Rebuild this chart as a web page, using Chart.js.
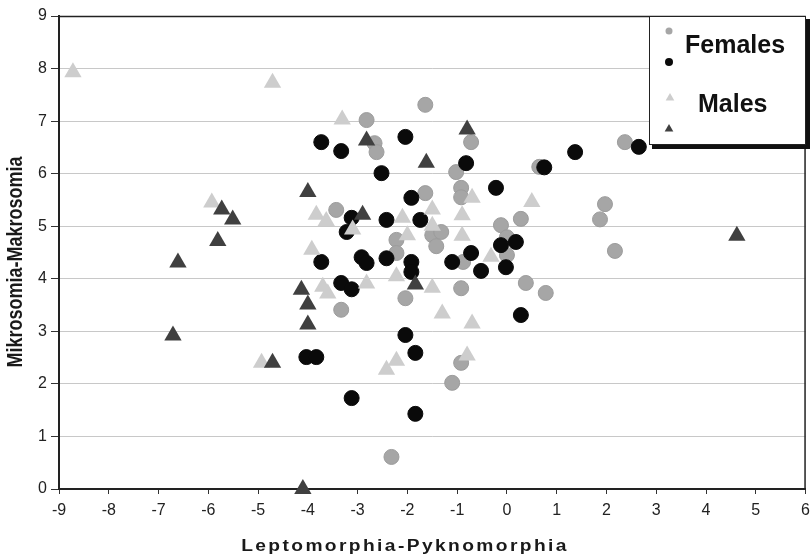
<!DOCTYPE html>
<html>
<head>
<meta charset="utf-8">
<title>Leptomorphia-Pyknomorphia scatter</title>
<script src="https://cdn.jsdelivr.net/npm/chart.js@4.4.1/dist/chart.umd.min.js"></script>
<style>
  html, body { margin: 0; padding: 0; background: #fff; overflow: hidden; }
  #wrap { width: 811px; height: 560px; overflow: hidden; }
</style>
</head>
<body>
<!-- canvas a bit wider than the page: Chart.js keeps ~10px for the big markers on the right -->
<div id="wrap"><canvas id="myChart" width="817" height="560"></canvas></div>
<script>
// Data (x = Leptomorphia-Pyknomorphia, y = Mikrosomia-Makrosomia)
const femalesGreyX = [-1.64, -2.82, -2.66, -2.62, -0.72, -1.02, 0.65, -1.64, -0.92, -0.92, -3.43, -2.22, -2.22, -1.5, -1.32, -1.42, -0.12,
  0.28, 0.0, -0.88, 0.0, 0.38, 0.78, -0.92, -2.04, -3.33, -0.92, -1.1, -2.32, 2.37, 1.97, 1.87, 2.17];
const femalesGreyY = [7.31, 7.02, 6.58, 6.41, 6.6, 6.03, 6.13, 5.63, 5.73, 5.55, 5.31, 4.74, 4.49, 4.83, 4.89, 4.62, 5.02,
  5.14, 4.79, 4.32, 4.45, 3.92, 3.73, 3.82, 3.63, 3.41, 2.4, 2.02, 0.61, 6.6, 5.42, 5.13, 4.53];

const femalesBlackX = [-3.73, -3.33, -2.04, -2.52, -0.82, 0.75, -0.22, -1.92, -3.12, -3.22, -2.42, -1.74, -3.73, -2.92, -2.82, -2.42, -1.92,
  -1.92, -1.1, -0.72, -0.52, -0.12, 0.18, -0.02, -3.33, -3.12, 0.28, -2.04, -4.03, -3.83, -1.84, -3.12, -1.84, 1.37, 2.65];
const femalesBlackY = [6.6, 6.43, 6.7, 6.01, 6.2, 6.12, 5.73, 5.54, 5.16, 4.89, 5.12, 5.12, 4.32, 4.41, 4.3, 4.39, 4.32,
  4.13, 4.32, 4.49, 4.15, 4.64, 4.7, 4.22, 3.92, 3.8, 3.31, 2.93, 2.51, 2.51, 2.59, 1.73, 1.43, 6.41, 6.51];

const malesLightX = [-8.72, -4.71, -5.93, -4.93, -3.31, -3.83, -3.63, -3.1, -2.1, -2.0, -1.5, -1.5, -0.9, -0.9, -0.7, 0.5,
  -3.92, -3.7, -3.6, -2.82, -2.22, -1.5, -1.3, -0.7, -0.32, -2.42, -2.22, -0.8];
const malesLightY = [7.93, 7.73, 5.45, 2.4, 7.03, 5.22, 5.1, 4.94, 5.16, 4.83, 5.32, 5.01, 5.21, 4.82, 5.54, 5.46,
  4.55, 3.85, 3.72, 3.91, 4.05, 3.83, 3.34, 3.15, 4.42, 2.27, 2.44, 2.54];

const malesDarkX = [-4.1, -6.71, -6.61, -5.81, -5.73, -5.51, -4.71, -4.0, -4.13, -4.0, -4.0, -2.9, -2.82, -0.8, -1.62, -1.84, 4.62];
const malesDarkY = [0.0, 2.92, 4.31, 4.72, 5.32, 5.13, 2.4, 5.65, 3.79, 3.51, 3.13, 5.22, 6.63, 6.84, 6.21, 3.89, 4.82];

// axis ranges / titles
const xMin = -9, xMax = 6;
const yMin = 0, yMax = 9;
const xTitle = 'Leptomorphia-Pyknomorphia';
const yTitle = 'Mikrosomia-Makrosomia';

const FONT = 'Arial, "Liberation Sans", sans-serif';

const toPoints = (xs, ys) => xs.map((x, i) => ({ x: x, y: ys[i] }));

// frame, legend box and axis titles
const decorations = {
  id: 'decorations',
  beforeDatasetsDraw(chart) {
    const { ctx, chartArea: a } = chart;
    ctx.save();
    ctx.strokeStyle = '#222';
    ctx.lineWidth = 1.5;
    ctx.beginPath();
    ctx.moveTo(a.left, a.top + 0.5);
    ctx.lineTo(a.right - 0.5, a.top + 0.5);
    ctx.lineTo(a.right - 0.5, a.bottom);
    ctx.stroke();
    ctx.restore();
  },
  afterDatasetsDraw(chart) {
    const ctx = chart.ctx;
    ctx.save();

    // legend box with its heavy shadow
    ctx.fillStyle = '#fff';
    ctx.fillRect(649, 16, 157, 129);
    ctx.strokeStyle = '#222';
    ctx.lineWidth = 1;
    ctx.strokeRect(649.5, 16.5, 156, 128);
    ctx.fillStyle = '#111';
    ctx.fillRect(806, 19, 4, 130);
    ctx.fillRect(652, 145, 158, 4);

    // legend markers
    ctx.fillStyle = '#a6a6a6';
    ctx.beginPath(); ctx.arc(669, 31, 3.5, 0, Math.PI * 2); ctx.fill();
    ctx.fillStyle = '#0a0a0a';
    ctx.beginPath(); ctx.arc(669, 62, 4, 0, Math.PI * 2); ctx.fill();
    const tri = (cx, cy, r, col) => {
      ctx.fillStyle = col;
      ctx.beginPath();
      ctx.moveTo(cx, cy - r);
      ctx.lineTo(cx + r * 0.866, cy + r / 2);
      ctx.lineTo(cx - r * 0.866, cy + r / 2);
      ctx.closePath();
      ctx.fill();
    };
    tri(670, 98, 5, '#cdcdcd');
    tri(669, 129, 5, '#404040');

    ctx.fillStyle = '#111';
    ctx.font = 'bold 25px ' + FONT;
    ctx.textAlign = 'left';
    ctx.textBaseline = 'alphabetic';
    ctx.fillText('Females', 685, 53);
    ctx.fillText('Males', 698, 112);

    // axis titles (slightly stretched, like the source figure)
    ctx.fillStyle = '#1a1a1a';
    ctx.textAlign = 'center';
    ctx.font = 'bold 16px ' + FONT;
    ctx.save();
    ctx.translate(405, 551);
    ctx.scale(1.2, 1);
    if ('letterSpacing' in ctx) ctx.letterSpacing = '2px';
    ctx.fillText(xTitle, 0, 0);
    ctx.restore();

    ctx.save();
    ctx.translate(16, 262);
    ctx.rotate(-Math.PI / 2);
    ctx.scale(1, 1.2);
    ctx.font = 'bold 18px ' + FONT;
    ctx.textBaseline = 'middle';
    ctx.fillText(yTitle, 0, 0);
    ctx.restore();

    ctx.restore();
  }
};

const myChart = new Chart(document.getElementById('myChart'), {
  type: 'scatter',
  data: {
    datasets: [
      {
        label: 'Females',
        data: toPoints(femalesGreyX, femalesGreyY),
        pointStyle: 'circle',
        pointRadius: 7.5,
        backgroundColor: '#a6a6a6',
        borderColor: '#9c9c9c',
        borderWidth: 1,
        order: 4,
        clip: false
      },
      {
        label: 'Females ',
        data: toPoints(femalesBlackX, femalesBlackY),
        pointStyle: 'circle',
        pointRadius: 7.5,
        backgroundColor: '#0a0a0a',
        borderColor: '#0a0a0a',
        borderWidth: 1,
        order: 3,
        clip: false
      },
      {
        label: 'Males',
        data: toPoints(malesLightX, malesLightY),
        pointStyle: 'triangle',
        pointRadius: 10,
        backgroundColor: '#cdcdcd',
        borderColor: '#cdcdcd',
        borderWidth: 0,
        order: 2,
        clip: false
      },
      {
        label: 'Males ',
        data: toPoints(malesDarkX, malesDarkY),
        pointStyle: 'triangle',
        pointRadius: 10,
        backgroundColor: '#404040',
        borderColor: '#404040',
        borderWidth: 0,
        order: 1,
        clip: false
      }
    ]
  },
  options: {
    responsive: false,
    animation: false,
    events: [],
    layout: { padding: { left: 0, right: 4, top: 16, bottom: 0 } },
    plugins: {
      legend: { display: false },
      tooltip: { enabled: false }
    },
    scales: {
      x: {
        type: 'linear',
        min: xMin,
        max: xMax,
        afterFit: (scale) => { scale.height = 71; },
        ticks: { stepSize: 1, color: '#222', font: { family: FONT, size: 16 }, padding: 7 },
        grid: { drawOnChartArea: false, tickColor: '#333', tickLength: 5 },
        border: { color: '#222', width: 2 }
      },
      y: {
        type: 'linear',
        min: yMin,
        max: yMax,
        afterFit: (scale) => { scale.width = 59; },
        ticks: { stepSize: 1, color: '#222', font: { family: FONT, size: 16 }, padding: 4 },
        grid: { color: '#c8c8c8', lineWidth: 1, tickColor: '#333', tickLength: 8 },
        border: { color: '#222', width: 2 }
      }
    }
  },
  plugins: [decorations]
});
</script>
</body>
</html>
